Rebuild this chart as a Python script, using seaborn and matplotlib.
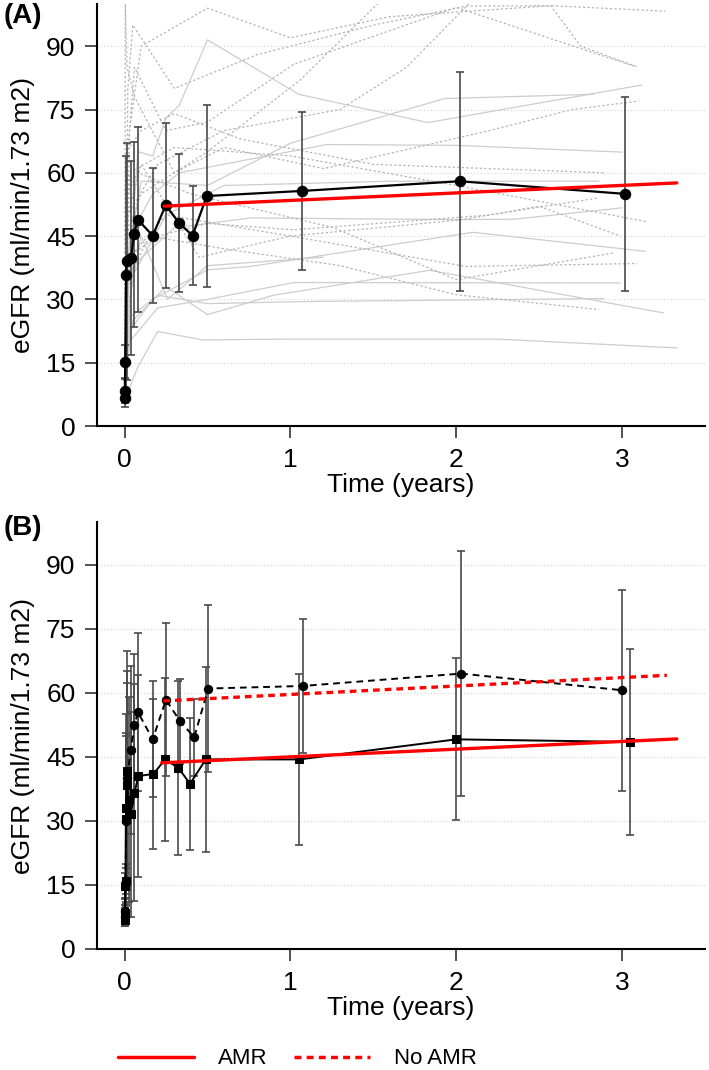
import pandas as pd
import seaborn as sns
import matplotlib.pyplot as plt
from matplotlib.lines import Line2D

# ---- panel A: whole cohort, mean +/- SD ----
t_all = [0.0, 0.002, 0.005, 0.009, 0.013, 0.039, 0.057, 0.08, 0.17, 0.248, 0.33, 0.41, 0.496, 1.07, 2.02, 3.02]
egfr_all = [6.6, 8.4, 15.2, 35.9, 39.0, 39.8, 45.4, 48.9, 45.1, 52.3, 48.1, 45.1, 54.5, 55.7, 58.0, 55.0]
sd_all = [2, 3, 4, 28, 28, 23, 22, 22, 16, 19.5, 16.3, 11.8, 21.6, 18.8, 26, 23]
fit_all_t = [0.24, 3.33]
fit_all_y = [52.1, 57.6]

# individual trajectories (solid = AMR, dotted = no AMR)
spag_amr = [
    ([0, 0.02, 0.08, 0.17, 0.25, 0.33, 0.5, 1.05, 1.83, 3.12], [8, 30, 65, 64, 73, 76, 91.5, 78.6, 71.9, 80.8]),
    ([0, 0.02, 0.1, 0.5, 1.0, 1.93, 2.83], [10, 40, 58, 57, 67, 77.6, 78.6]),
    ([0, 0.03, 0.17, 0.33, 1.22, 2.0, 3.0], [12, 45, 55, 60, 66.7, 66.5, 64.9]),
    ([0, 0.04, 0.25, 0.6, 1.6, 2.86], [9, 35, 50, 57, 58.0, 58.0]),
    ([0, 0.05, 0.3, 0.76, 2.0, 2.35, 3.0], [7, 38, 47, 49.3, 48.9, 49, 51.7]),
    ([0, 0.02, 0.17, 0.5, 0.76, 2.1, 3.14], [6, 22, 30, 37, 37.8, 45.9, 41.4]),
    ([0, 0.03, 0.2, 0.5, 1.02, 2.99], [8, 20, 28, 30, 34.0, 33.9]),
    ([0, 0.05, 0.25, 0.5, 0.9, 1.84, 3.25], [10, 25, 33, 26.4, 31, 36.9, 26.8]),
    ([0, 0.04, 0.2, 0.5, 1.1, 2.89], [7, 26, 31, 29, 29.5, 30.2]),
    ([0, 0.08, 0.2, 0.47, 1.02, 2.24, 3.33], [6, 14, 22.4, 20.4, 20.6, 20.6, 18.5]),
    ([0, 0.03, 0.1, 0.26, 0.5, 1.2], [9, 30, 45, 30, 38, 40]),
]
spag_noamr = [
    ([0, 0.01, 0.06, 0.25, 0.5, 1.02, 2.0, 3.07], [10, 60, 85, 70, 72, 85.7, 99.2, 85.3]),
    ([0, 0.02, 0.05, 0.3, 0.8, 1.5, 2.06, 2.57, 3.26], [8, 80, 95, 80, 88, 95, 99.5, 99.6, 98.3]),
    ([0, 0.03, 0.1, 0.5, 1.0, 1.6, 2.57, 2.75, 3.1], [9, 70, 90, 99, 92, 97, 99.6, 90, 85]),
    ([0, 0.01, 0.1, 0.5, 1.06, 1.55], [8, 45, 55, 65, 82, 101]),
    ([0, 0.02, 0.2, 0.6, 1.3, 1.7, 2.1], [7, 50, 62, 70, 75, 85, 101]),
    ([0, 0.015, 0.08, 0.4, 1.26, 2.0, 2.95], [8, 55, 60, 55, 47.0, 34.7, 41.0]),
    ([0, 0.03, 0.25, 1.0, 2.06, 3.09], [9, 40, 50, 45, 37.8, 38.5]),
    ([0, 0.02, 0.15, 0.6, 1.3, 2.0, 2.86], [6, 35, 45, 42, 38, 31.1, 27.6]),
    ([0, 0.02, 0.1, 0.45, 1.0, 2.04, 2.5, 2.99], [7, 50, 62, 40, 45, 48.9, 52.1, 45.0]),
    ([0, 0.03, 0.3, 1.0, 2.0, 3.15], [10, 60, 66, 64, 57, 48.4]),
    ([0, 0.02, 0.2, 0.5, 1.02, 2.2, 2.85], [8, 40, 45, 48, 46.5, 50, 54]),
    ([0, 0.01, 0.1, 0.3, 0.7, 1.5, 2.9], [9, 65, 70, 74, 68, 62, 60]),
    ([0, 0.005, 0.015, 0.06, 0.3, 0.6, 1.2, 2.2, 2.7, 3.1], [12, 100, 85, 78, 60, 66, 61, 70, 75, 77]),
]

# ---- panel B: AMR vs no AMR ----
t_amr = [0.0, 0.002, 0.004, 0.006, 0.008, 0.010, 0.013, 0.016, 0.025, 0.037, 0.06, 0.083, 0.174, 0.245, 0.325, 0.395, 0.49, 1.054, 2.0, 3.045]
egfr_amr = [6.9, 8.4, 14.7, 15.9, 30.5, 33.0, 41.8, 38.3, 35.0, 31.5, 36.6, 40.5, 41.0, 44.4, 42.4, 38.7, 44.4, 44.4, 49.1, 48.5]
sd_amr = [1.5, 2, 3, 3, 20, 22, 28, 24, 24, 24, 25.4, 23.7, 17.6, 19, 20.3, 15.4, 21.6, 20, 19, 21.8]
t_noamr = [0.0, 0.003, 0.006, 0.010, 0.016, 0.037, 0.06, 0.08, 0.17, 0.25, 0.335, 0.42, 0.505, 1.075, 2.03, 3.0]
egfr_noamr = [7.5, 9.0, 16.0, 30.0, 40.0, 46.6, 52.4, 55.5, 49.1, 58.4, 53.3, 49.6, 61.0, 61.6, 64.5, 60.6]
sd_noamr = [2, 3, 4, 20, 25, 19.7, 16.8, 18.6, 13.6, 18, 10, 9, 19.6, 15.8, 28.7, 23.5]
fit_amr_t = [0.224, 3.33]
fit_amr_y = [43.6, 49.2]
fit_noamr_t = [0.234, 3.27]
fit_noamr_y = [58.1, 64.1]

yticks = [0, 15, 30, 45, 60, 75, 90]
xticks = [0, 1, 2, 3]

sns.set_style('ticks')
plt.rcParams['font.family'] = ['Liberation Sans', 'DejaVu Sans']
plt.rcParams.update({'text.color': 'black', 'axes.labelcolor': 'black',
                     'xtick.color': 'black', 'ytick.color': 'black'})

rows = []
for grp, pats in (('AMR', spag_amr), ('No AMR', spag_noamr)):
    for i, (tt, yy) in enumerate(pats):
        for t, y in zip(tt, yy):
            rows.append({'pid': f'{grp}{i}', 'grp': grp, 't': t, 'egfr': y})
df_spag = pd.DataFrame(rows)

fig = plt.figure(figsize=(7.09, 10.70), dpi=100)
W, H = 709, 1070
axA = fig.add_axes([97 / W, 1 - 426 / H, 608 / W, 422 / H])
axB = fig.add_axes([97 / W, 1 - 949 / H, 608 / W, 427 / H])

ERR = dict(fmt='none', ecolor='#4a4a4a', elinewidth=1.2, capsize=2.6, capthick=1.2, zorder=3)

# panel A
sns.lineplot(data=df_spag, x='t', y='egfr', units='pid', estimator=None, hue='grp', style='grp',
             palette={'AMR': '#cdcdcd', 'No AMR': '#b4b4b4'}, dashes={'AMR': '', 'No AMR': (1.8, 1.8)},
             lw=0.9, legend=False, ax=axA, zorder=1)
axA.errorbar(t_all, egfr_all, yerr=sd_all, **ERR)
sns.lineplot(x=t_all, y=egfr_all, estimator=None, sort=False, color='black', lw=1.6,
             marker='o', markersize=7.5, mec='black', ax=axA, zorder=4)
sns.lineplot(x=fit_all_t, y=fit_all_y, color='red', lw=2.4, ax=axA, zorder=5)

# panel B
axB.errorbar(t_amr, egfr_amr, yerr=sd_amr, **ERR)
axB.errorbar(t_noamr, egfr_noamr, yerr=sd_noamr, **ERR)
sns.lineplot(x=t_amr, y=egfr_amr, estimator=None, sort=False, color='black', lw=1.4,
             marker='s', markersize=5.5, mec='black', ax=axB, zorder=4)
ln = sns.lineplot(x=t_noamr, y=egfr_noamr, estimator=None, sort=False, color='black', lw=1.4,
                  marker='o', markersize=6, mec='black', ax=axB, zorder=4)
ln.lines[-1].set_dashes((3.5, 2.5))
sns.lineplot(x=fit_amr_t, y=fit_amr_y, color='red', lw=2.4, ax=axB, zorder=5)
sns.lineplot(x=fit_noamr_t, y=fit_noamr_y, color='red', lw=2.4, ax=axB, zorder=5)
axB.lines[-1].set_dashes((2.0, 1.5))

for ax in (axA, axB):
    ax.set_xlim(-0.166, 3.5)
    ax.set_ylim(0, 100)
    ax.set_xticks(xticks)
    ax.set_yticks(yticks)
    for y in yticks[1:]:
        ax.axhline(y, color='#d2d2d2', lw=0.8, ls=(0, (1, 2)), zorder=0)
    sns.despine(ax=ax)
    for s in ('left', 'bottom'):
        ax.spines[s].set_linewidth(1.5)
        ax.spines[s].set_color('black')
    ax.tick_params(labelsize=19, length=8.5, width=1.2, pad=7, color='#333333')
    ax.set_xlabel('Time (years)', fontsize=19, labelpad=1)
    ax.set_ylabel('eGFR (ml/min/1.73 m2)', fontsize=19, labelpad=8)

fig.text(4 / W, 1 - 16 / H, '(A)', fontsize=20, weight='bold', va='center', ha='left')
fig.text(4 / W, 1 - 528 / H, '(B)', fontsize=20, weight='bold', va='center', ha='left')

handles = [Line2D([], [], color='red', lw=2.5),
           Line2D([], [], color='red', lw=2.5, dashes=(2.0, 1.5))]
fig.legend(handles, ['AMR', 'No AMR'], loc='center left', bbox_to_anchor=(118 / W, 1 - 1059 / H),
           ncol=2, frameon=False, fontsize=16, handlelength=3.4, handletextpad=1.1,
           columnspacing=1.2, borderpad=0, borderaxespad=0)

fig.savefig('out.png', dpi=100)
